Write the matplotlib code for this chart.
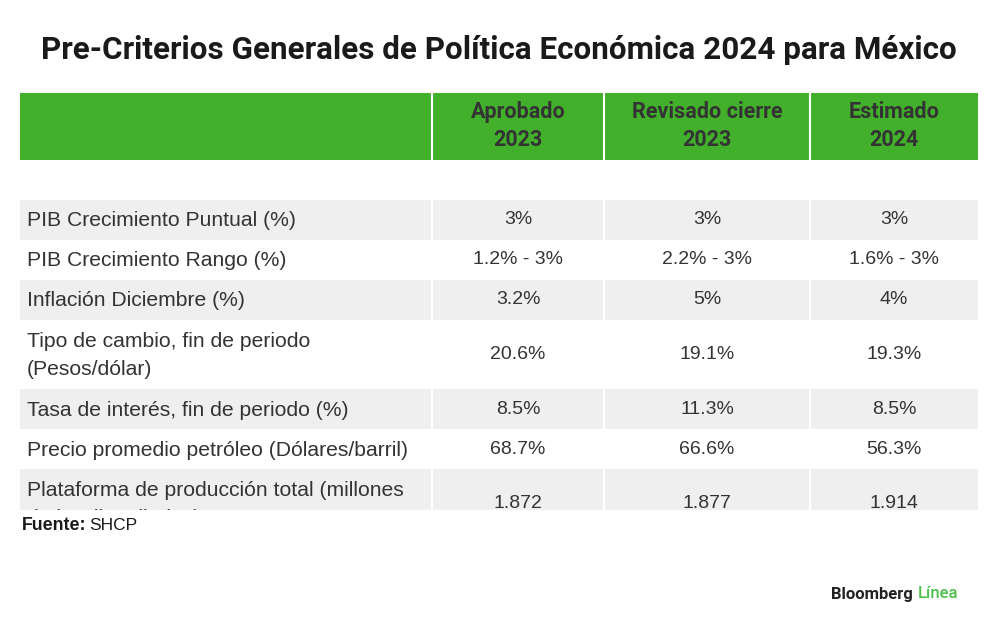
import matplotlib.pyplot as plt
from matplotlib.patches import Rectangle

title = "Pre-Criterios Generales de Política Económica 2024 para México"
headers = ["Aprobado\n2023", "Revisado cierre\n2023", "Estimado\n2024"]
labels = [
    "PIB Crecimiento Puntual (%)",
    "PIB Crecimiento Rango (%)",
    "Inflación Diciembre (%)",
    "Tipo de cambio, fin de periodo\n(Pesos/dólar)",
    "Tasa de interés, fin de periodo (%)",
    "Precio promedio petróleo (Dólares/barril)",
    "Plataforma de producción total (millones\nde barriles diarios)",
]
aprobado_2023 = ["3%", "1.2% - 3%", "3.2%", "20.6%", "8.5%", "68.7%", "1.872"]
revisado_2023 = ["3%", "2.2% - 3%", "5%", "19.1%", "11.3%", "66.6%", "1.877"]
estimado_2024 = ["3%", "1.6% - 3%", "4%", "19.3%", "8.5%", "56.3%", "1.914"]

green = "#42b02b"
gray = "#efefef"
txt = "#333333"
font = "Liberation Sans"

fig = plt.figure(figsize=(10, 6.34), dpi=100)
ax = fig.add_axes([0, 0, 1, 1])
ax.set_xlim(0, 1000)
ax.set_ylim(634, 0)
ax.axis("off")

x_edges = [20, 432, 604, 810, 978]

ax.text(499, 50, title, ha="center", va="center", fontsize=22.6,
        fontweight="bold", color="#1a1a1a", family="Roboto")

# header band
ax.add_patch(Rectangle((x_edges[0], 93), x_edges[-1] - x_edges[0], 67,
                       color=green, lw=0))
for i, h in enumerate(headers):
    cx = (x_edges[i + 1] + x_edges[i + 2]) / 2
    ax.text(cx, 126, h, ha="center", va="center", fontsize=15.5,
            fontweight="bold", color=txt, family="Roboto", linespacing=1.3)

y = 200
cols = [aprobado_2023, revisado_2023, estimado_2024]
for r, lab in enumerate(labels):
    h = 69 if "\n" in lab else 40
    if r % 2 == 0:
        ax.add_patch(Rectangle((x_edges[0], y), x_edges[-1] - x_edges[0], h,
                               color=gray, lw=0, zorder=1))
    cy = y + h / 2
    ax.text(27, cy + 1, lab, ha="left", va="center", fontsize=15.2,
            color=txt, family=font, linespacing=1.55, zorder=2)
    for c, vals in enumerate(cols):
        cx = (x_edges[c + 1] + x_edges[c + 2]) / 2
        ax.text(cx, cy, vals[r], ha="center", va="center",
                fontsize=14, color=txt, family=font, zorder=2)
    y += h

# white column separators
for xe in x_edges[1:-1]:
    ax.plot([xe, xe], [93, 520], color="white", lw=1.5, zorder=3)

# the table is cut off at the bottom
ax.add_patch(Rectangle((0, 510), 1000, 124, color="white", lw=0, zorder=4))

ax.text(22, 525, "Fuente:", ha="left", va="center", fontsize=12.8,
        fontweight="bold", color="#1a1a1a", family=font, zorder=5)
ax.text(89, 525, "SHCP", ha="left", va="center", fontsize=12.5,
        color="#1a1a1a", family=font, zorder=5)

ax.text(913, 594, "Bloomberg", ha="right", va="center", fontsize=12,
        fontweight="bold", color="#222222", family="Roboto", zorder=5)
ax.text(918, 594, "Línea", ha="left", va="center", fontsize=12,
        fontweight="medium", color="#4cbf4a", family="Roboto", zorder=5)

fig.savefig("out.png", dpi=100, facecolor="white")
